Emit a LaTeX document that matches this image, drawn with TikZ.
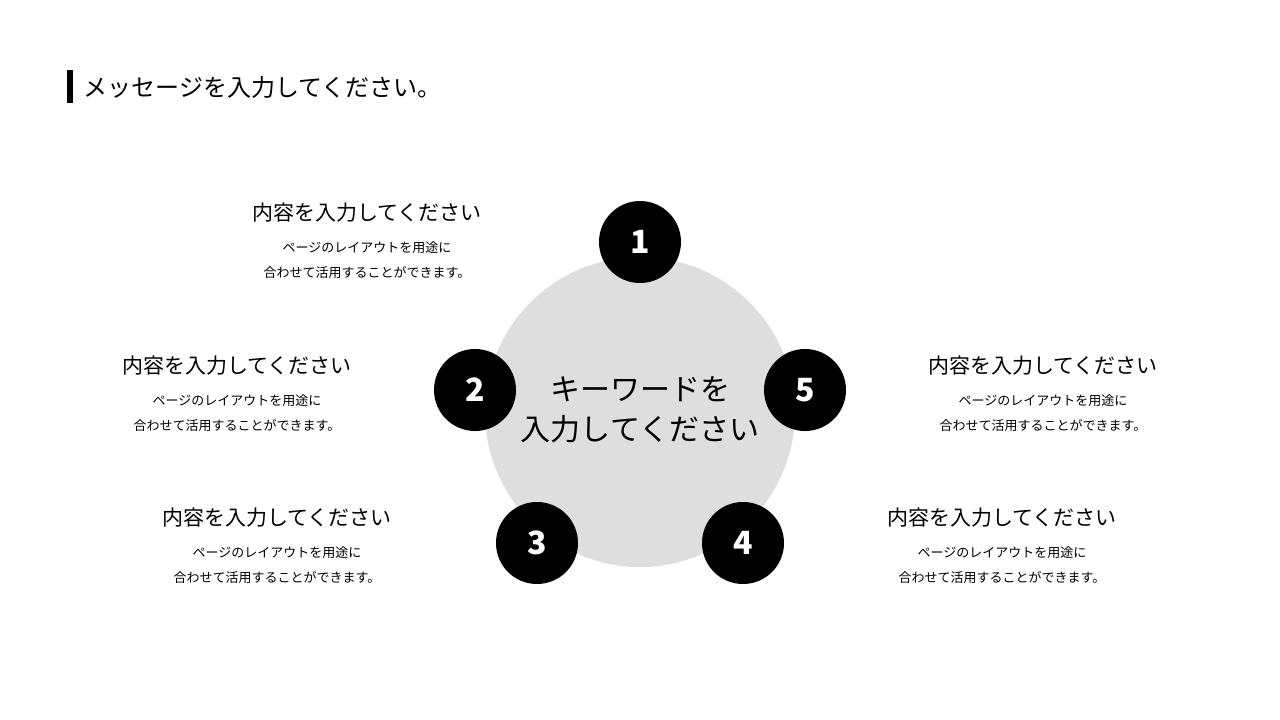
\documentclass[tikz,border=0pt]{standalone}
\usepackage{fontspec}
\setmainfont{Noto Sans CJK JP}
\begin{document}
\begin{tikzpicture}[x=1pt,y=-1pt,
  num/.style={circle,fill=black,minimum size=82pt,inner sep=0,text=white,font=\fontsize{32}{32}\selectfont\bfseries},
  head/.style={font=\fontsize{21}{21}\selectfont,anchor=center},
  sub/.style={font=\fontsize{13}{25}\selectfont,align=center,anchor=center}]
\useasboundingbox[fill=white] (0,0) rectangle (1280,720);
\fill[black] (67,70) rectangle (73,103);
\node[anchor=west,font=\fontsize{24}{24}\selectfont] (title) at (80,87) {メッセージを入力してください。};
\node[circle,fill=black!13,minimum size=310pt,inner sep=0] (c) at (640,412) {};
\node[font=\fontsize{30}{40}\selectfont,align=center] (ct) at (640,410) {キーワードを\\入力してください};
\node[num] (n1) at (640,242) {1};
\node[num] (n2) at (475,390) {2};
\node[num] (n5) at (805,390) {5};
\node[num] (n3) at (537,543) {3};
\node[num] (n4) at (743,543) {4};
\foreach \i/\x/\y in {1/367/213,2/237/366,3/277/518,5/1043/366,4/1002/518}{
  \node[head] (h\i) at (\x,\y) {内容を入力してください};
  \node[sub] (s\i) at (\x,\y+47) {ページのレイアウトを用途に\\合わせて活用することができます。};
}
\end{tikzpicture}
\end{document}
